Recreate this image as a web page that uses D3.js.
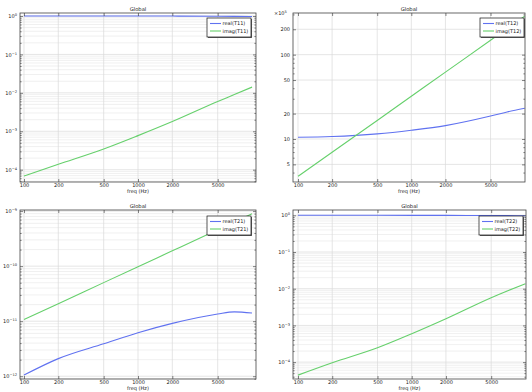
<!DOCTYPE html>
<html>
<head>
<meta charset="utf-8">
<script src="https://cdn.jsdelivr.net/npm/d3@7"></script>
<style>
  body { margin: 0; background: #fff; }
  svg { display: block; font-family: "DejaVu Sans", sans-serif; }
</style>
</head>
<body>
<div id="chart"></div>
<script>
var width = 532, height = 392;

// frequency samples (Hz)
const freq = [100, 200, 500, 1000, 2000, 5000, 7000, 10000];

// T11
const realT11 = [1.0, 1.0, 1.0, 0.999, 0.996, 0.988, 0.98, 0.97];
const imagT11 = [6.84e-5, 1.38e-4, 3.46e-4, 7.71e-4, 1.79e-3, 5.94e-3, 9.0e-3, 1.41e-2];
// T12 (shown in units of 1e5)
const realT12 = [10.5, 10.7, 11.5, 12.7, 14.4, 18.7, 20.9, 23.1];
const imagT12 = [3.61, 6.97, 16.6, 32.1, 62.1, 148, 204, 286];
// T21
const realT21 = [1.05e-12, 2.09e-12, 3.89e-12, 6.17e-12, 9.12e-12, 1.35e-11, 1.48e-11, 1.41e-11];
const imagT21 = [1.07e-11, 2.08e-11, 5.02e-11, 9.77e-11, 1.90e-10, 4.58e-10, 6.33e-10, 8.91e-10];
// T22
const realT22 = [1.0, 1.0, 1.0, 0.999, 0.996, 0.988, 0.98, 0.97];
const imagT22 = [4.42e-5, 9.6e-5, 2.46e-4, 5.93e-4, 1.52e-3, 5.69e-3, 8.8e-3, 1.37e-2];

const xTicks = [100, 200, 500, 1000, 2000, 5000];
const decadeTicks4 = [1, 1e-1, 1e-2, 1e-3, 1e-4];
const decadeTicks12 = [1e-9, 1e-10, 1e-11, 1e-12];
const t12Ticks = [5, 10, 20, 50, 100, 200];

const blue = "#6072f0", green = "#66d06c";

const svg = d3.select("#chart").append("svg")
  .attr("width", width).attr("height", height);

const panels = [
  { id: "p11", x0: 20, x1: 256, y0: 13, y1: 182, xd: [Math.pow(10, 1.965), Math.pow(10, 4.035)],
    yd: [Math.pow(10, -4.32), Math.pow(10, 0.078)], yMajor: decadeTicks4, pow: true, minorGrid: true,
    series: [{ name: "real(T11)", v: realT11, c: blue }, { name: "imag(T11)", v: imagT11, c: green }],
    legend: [207, 18] },
  { id: "p12", x0: 293, x1: 525, y0: 13, y1: 182, xd: [Math.pow(10, 1.956), Math.pow(10, 4.003)],
    yd: [Math.pow(10, 0.49), Math.pow(10, 2.494)], yMajor: t12Ticks, pow: false, minorGrid: false,
    series: [{ name: "real(T12)", v: realT12, c: blue }, { name: "imag(T12)", v: imagT12, c: green }],
    legend: [480, 18], factor: "5" },
  { id: "p21", x0: 20, x1: 256, y0: 210, y1: 379, xd: [Math.pow(10, 1.965), Math.pow(10, 4.035)],
    yd: [Math.pow(10, -12.05), Math.pow(10, -8.98)], yMajor: decadeTicks12, pow: true, minorGrid: true,
    series: [{ name: "real(T21)", v: realT21, c: blue }, { name: "imag(T21)", v: imagT21, c: green }],
    legend: [207, 216] },
  { id: "p22", x0: 293, x1: 526, y0: 210, y1: 379, xd: [Math.pow(10, 1.956), Math.pow(10, 4.005)],
    yd: [Math.pow(10, -4.46), Math.pow(10, 0.145)], yMajor: decadeTicks4, pow: true, minorGrid: true,
    series: [{ name: "real(T22)", v: realT22, c: blue }, { name: "imag(T22)", v: imagT22, c: green }],
    legend: [479, 216] }
];

panels.forEach(drawPanel);

function drawPanel(p) {
  const x = d3.scaleLog().domain(p.xd).range([p.x0, p.x1]);
  const y = d3.scaleLog().domain(p.yd).range([p.y1, p.y0]);
  const w = p.x1 - p.x0, h = p.y1 - p.y0;
  const g = svg.append("g");
  const yMinor = y.ticks().filter(t => !p.yMajor.some(m => Math.abs(m - t) / t < 1e-6));

  // grid
  if (p.minorGrid) {
    g.append("g").selectAll("line").data(yMinor).join("line")
      .attr("x1", p.x0).attr("x2", p.x1).attr("y1", d => y(d)).attr("y2", d => y(d))
      .attr("stroke", "#e6e6e6").attr("stroke-width", 0.6);
  }
  g.append("g").selectAll("line").data(p.yMajor).join("line")
    .attr("x1", p.x0).attr("x2", p.x1).attr("y1", d => y(d)).attr("y2", d => y(d))
    .attr("stroke", "#dadada").attr("stroke-width", 0.7);
  g.append("g").selectAll("line").data(xTicks).join("line")
    .attr("y1", p.y0).attr("y2", p.y1).attr("x1", d => x(d)).attr("x2", d => x(d))
    .attr("stroke", "#dadada").attr("stroke-width", 0.7);

  // data lines
  g.append("clipPath").attr("id", "clip" + p.id).append("rect")
    .attr("x", p.x0).attr("y", p.y0).attr("width", w).attr("height", h);
  const line = d3.line().x((d, i) => x(freq[i])).y(d => y(d)).curve(d3.curveMonotoneX);
  p.series.forEach(s => {
    g.append("path").attr("d", line(s.v)).attr("fill", "none")
      .attr("stroke", s.c).attr("stroke-width", 1.1).attr("clip-path", `url(#clip${p.id})`);
  });

  // axes (ticks pointing inward)
  const fsz = 5;
  const styleAxis = sel => { sel.attr("font-size", fsz).attr("font-family", "DejaVu Sans, sans-serif");
    sel.select(".domain").remove(); sel.selectAll("line").attr("stroke", "#333").attr("stroke-width", 0.6);
    sel.selectAll("text").attr("fill", "#222"); };

  g.append("g").attr("transform", `translate(0,${p.y1})`)
    .call(d3.axisBottom(x).tickValues(xTicks).tickFormat(d3.format("d")).tickSize(-3).tickPadding(1))
    .call(styleAxis);
  g.append("g").attr("transform", `translate(0,${p.y0})`)
    .call(d3.axisTop(x).tickValues(xTicks).tickFormat("").tickSize(-3))
    .call(styleAxis);

  const yl = g.append("g").attr("transform", `translate(${p.x0},0)`)
    .call(d3.axisLeft(y).tickValues(p.yMajor).tickSize(-3).tickPadding(3)
      .tickFormat(p.pow ? "" : d3.format("d")))
    .call(styleAxis);
  if (p.pow) {
    yl.selectAll(".tick text").each(function (d) {
      const t = d3.select(this);
      t.append("tspan").text("10");
      t.append("tspan").attr("dy", -2).attr("font-size", 3.6)
        .text(String(Math.round(Math.log10(d))).replace("-", "\u2212"));
    });
  }
  g.append("g").attr("transform", `translate(${p.x0},0)`)
    .call(d3.axisLeft(y).tickValues(yMinor).tickSize(-1.6).tickFormat(""))
    .call(styleAxis);
  g.append("g").attr("transform", `translate(${p.x1},0)`)
    .call(d3.axisRight(y).tickValues(p.yMajor).tickSize(-3).tickFormat(""))
    .call(styleAxis);
  g.append("g").attr("transform", `translate(${p.x1},0)`)
    .call(d3.axisRight(y).tickValues(yMinor).tickSize(-1.6).tickFormat(""))
    .call(styleAxis);

  // frame
  g.append("rect").attr("x", p.x0).attr("y", p.y0).attr("width", w).attr("height", h)
    .attr("fill", "none").attr("stroke", "#444").attr("stroke-width", 0.8);

  // titles
  g.append("text").attr("x", (p.x0 + p.x1) / 2).attr("y", p.y0 - 2.5).attr("text-anchor", "middle")
    .attr("font-size", 5.2).attr("fill", "#222").text("Global");
  g.append("text").attr("x", (p.x0 + p.x1) / 2).attr("y", p.y1 + 10.5).attr("text-anchor", "middle")
    .attr("font-size", 5).attr("fill", "#222").text("freq (Hz)");
  if (p.factor) {
    const f = g.append("text").attr("x", p.x0 - 19).attr("y", p.y0 + 2).attr("font-size", 5).attr("fill", "#222");
    f.append("tspan").text("\u00d710");
    f.append("tspan").attr("dy", -2).attr("font-size", 3.6).text(p.factor);
  }

  // legend
  const [lx, ly] = p.legend, lw = 44, lh = 19;
  const lg = g.append("g").attr("transform", `translate(${lx},${ly})`);
  lg.append("rect").attr("x", 1).attr("y", 1).attr("width", lw).attr("height", lh).attr("fill", "#666");
  lg.append("rect").attr("width", lw).attr("height", lh).attr("fill", "#fff")
    .attr("stroke", "#111").attr("stroke-width", 0.7);
  p.series.forEach((s, i) => {
    const yy = 5.5 + i * 7.5;
    lg.append("line").attr("x1", 3).attr("x2", 14).attr("y1", yy).attr("y2", yy)
      .attr("stroke", s.c).attr("stroke-width", 1.1);
    lg.append("text").attr("x", 15.5).attr("y", yy + 1.8).attr("font-size", 5).attr("fill", "#222").text(s.name);
  });
}
</script>
</body>
</html>
